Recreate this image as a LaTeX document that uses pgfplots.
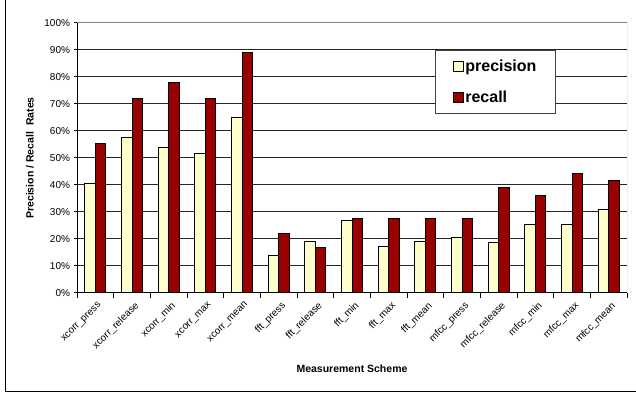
\documentclass[border=0pt]{standalone}
\usepackage{pgfplots}
\pgfplotsset{compat=1.18}
\usepackage{fontspec}
\setmainfont{Liberation Sans}

\definecolor{precfill}{HTML}{FFFFCC}
\definecolor{recfill}{HTML}{990000}

\begin{document}
\begin{tikzpicture}
  % page area and outer chart frame
  \path[use as bounding box] (0pt,0pt) rectangle (636pt,393pt);
  \draw[black, line width=1pt] (5pt,393pt) -- (5pt,2pt) -- (636pt,2pt);

  \begin{axis}[
    at={(77pt,100pt)}, anchor=south west,
    scale only axis, width=550pt, height=270pt,
    ybar=0pt, bar width=10.5pt,
    xmin=-0.5, xmax=14.5,
    ymin=0, ymax=100,
    axis x line*=bottom, axis y line*=left,
    axis line style={black, line width=1pt},
    ytick={0,10,...,100},
    yticklabel={\pgfmathprintnumber{\tick}\%},
    /pgf/number format/assume math mode=true,
    yticklabel style={font=\fontsize{10}{11}\selectfont, xshift=-0.5pt},
    ymajorgrids,
    major grid style={black!85, line width=1pt},
    xtick={0,...,14},
    xticklabels={xcorr\_press, xcorr\_release, xcorr\_min, xcorr\_max, xcorr\_mean,
      fft\_press, fft\_release, fft\_min, fft\_max, fft\_mean,
      mfcc\_press, mfcc\_release, mfcc\_min, mfcc\_max, mfcc\_mean},
    xticklabel style={rotate=45, anchor=north east, font=\fontsize{10}{11}\selectfont,
      inner sep=1pt, xshift=-1pt, yshift=-4pt},
    minor xtick={-0.5,0.5,...,14.5},
    tick align=outside,
    major x tick style={draw=none},
    minor tick length=5pt, major tick length=3pt,
    every tick/.style={black, line width=1pt},
    xlabel={\textbf{Measurement Scheme}},
    xlabel style={font=\fontsize{10.5}{12}\selectfont, at={(rel axis cs:0.5,0)}, anchor=center, yshift=-76pt},
    ylabel={\textbf{Precision / Recall\ \ Rates}},
    ylabel style={font=\fontsize{10.5}{12}\selectfont, at={(rel axis cs:0,0.5)}, anchor=center, yshift=47pt},
    legend style={at={(0.651,0.9)}, anchor=north west, draw=black!75, line width=1pt,
      font=\bfseries\fontsize{16}{18}\selectfont,
      inner xsep=17pt, inner ysep=7.5pt, row sep=14pt, cells={anchor=west}},
    legend image code/.code={\draw[#1, line width=0.8pt] (0pt,-5pt) rectangle (10pt,5pt);},
  ]
    \addplot[draw=black, line width=1pt, fill=precfill] coordinates {
      (0,40.4) (1,57.5) (2,53.8) (3,51.7) (4,64.9)
      (5,13.9) (6,18.9) (7,27.0) (8,17.4) (9,18.9)
      (10,20.6) (11,18.8) (12,25.3) (13,25.5) (14,31.0)};
    \addlegendentry{precision}
    \addplot[draw=black, line width=1pt, fill=recfill] coordinates {
      (0,55.4) (1,72.1) (2,77.8) (3,72.1) (4,89.0)
      (5,22.2) (6,16.7) (7,27.6) (8,27.6) (9,27.6)
      (10,27.6) (11,38.9) (12,36.1) (13,44.4) (14,41.7)};
    \addlegendentry{recall}
    % grey border on top and right of the plot area
    \draw[gray, line width=1pt] (rel axis cs:0,1) -- (rel axis cs:1,1) -- (rel axis cs:1,0);
  \end{axis}
\end{tikzpicture}
\end{document}
